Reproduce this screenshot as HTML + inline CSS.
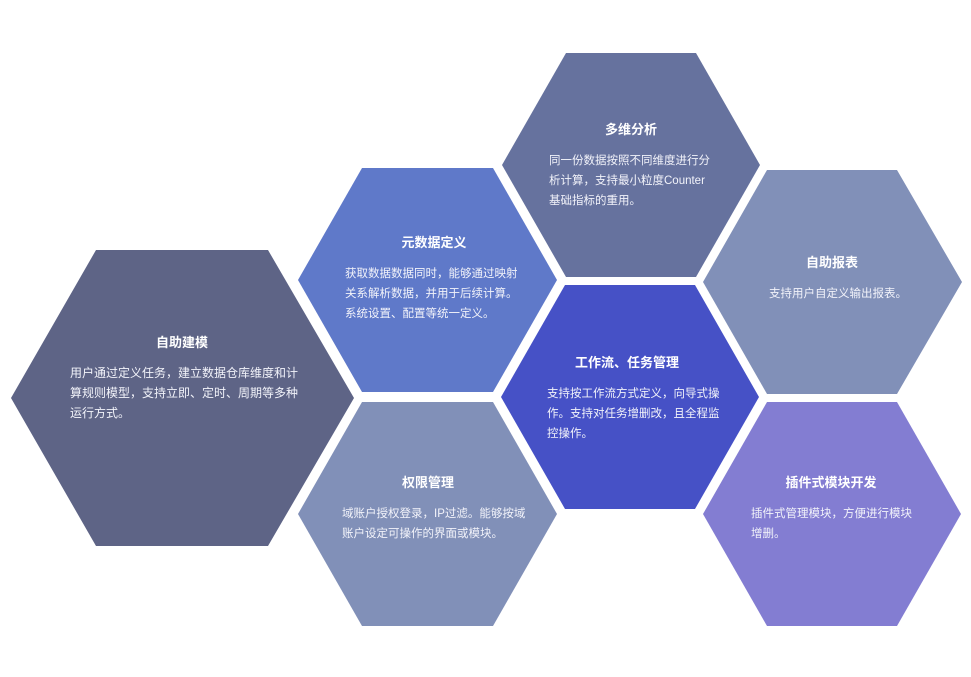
<!DOCTYPE html>
<html><head><meta charset="utf-8"><style>
html,body{margin:0;padding:0;background:#fff;width:971px;height:677px;overflow:hidden}
svg{display:block}
text{font-family:"Liberation Sans","Noto Sans CJK SC",sans-serif;fill:#fff}
.t{font-size:13px;font-weight:bold}
.b{font-size:11.5px;fill:#f2f3fa}
.bb{font-size:12px;fill:#f2f3fa}
</style></head><body>
<svg width="971" height="677" viewBox="0 0 971 677" xmlns="http://www.w3.org/2000/svg">
<polygon points="96,250 268,250 354,398 268,546 96,546 11,398" fill="#5e6486"/>
<polygon points="362,168 493,168 557,280 493,392 362,392 298,280" fill="#5f79c9"/>
<polygon points="566,53 696,53 760,165 696,277 566,277 502,165" fill="#66729e"/>
<polygon points="767,170 897,170 962,282 897,394 767,394 703,282" fill="#8190b8"/>
<polygon points="565,285 695,285 759,397 695,509 565,509 501,397" fill="#4651c6"/>
<polygon points="362,402 493,402 557,514 493,626 362,626 298,514" fill="#8190b8"/>
<polygon points="767,402 897,402 961,514 897,626 767,626 703,514" fill="#837dd2"/>

<text class="t" x="182" y="347" text-anchor="middle">自助建模</text>
<text class="bb" x="70" y="377">用户通过定义任务，建立数据仓库维度和计</text>
<text class="bb" x="70" y="397">算规则模型，支持立即、定时、周期等多种</text>
<text class="bb" x="70" y="417">运行方式。</text>

<text class="t" x="434" y="247" text-anchor="middle">元数据定义</text>
<text class="b" x="345" y="277">获取数据数据同时，能够通过映射</text>
<text class="b" x="345" y="297">关系解析数据，并用于后续计算。</text>
<text class="b" x="345" y="317">系统设置、配置等统一定义。</text>

<text class="t" x="631" y="134" text-anchor="middle">多维分析</text>
<text class="b" x="549" y="164">同一份数据按照不同维度进行分</text>
<text class="b" x="549" y="184">析计算，支持最小粒度Counter</text>
<text class="b" x="549" y="204">基础指标的重用。</text>

<text class="t" x="832" y="267" text-anchor="middle">自助报表</text>
<text class="b" x="769" y="297">支持用户自定义输出报表。</text>

<text class="t" x="627" y="367" text-anchor="middle">工作流、任务管理</text>
<text class="b" x="547" y="397">支持按工作流方式定义，向导式操</text>
<text class="b" x="547" y="417">作。支持对任务增删改，且全程监</text>
<text class="b" x="547" y="437">控操作。</text>

<text class="t" x="428" y="487" text-anchor="middle">权限管理</text>
<text class="b" x="342" y="517">域账户授权登录，IP过滤。能够按域</text>
<text class="b" x="342" y="537">账户设定可操作的界面或模块。</text>

<text class="t" x="831" y="487" text-anchor="middle">插件式模块开发</text>
<text class="b" x="751" y="517">插件式管理模块，方便进行模块</text>
<text class="b" x="751" y="537">增删。</text>
</svg>
</body></html>
